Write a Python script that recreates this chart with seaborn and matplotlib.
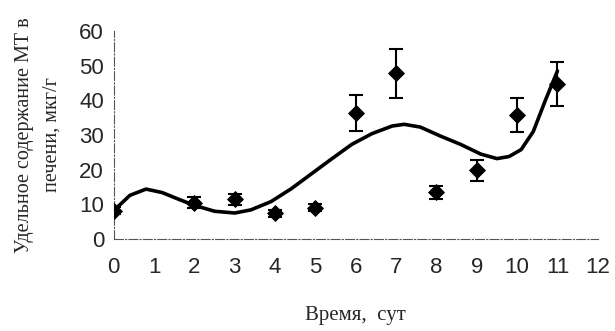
import numpy as np
import pandas as pd
import matplotlib
matplotlib.use("Agg")
import matplotlib.pyplot as plt
import seaborn as sns

# Data
days = [0, 2, 3, 4, 5, 6, 7, 8, 9, 10, 11]
mt_content = [8.2, 10.4, 11.4, 7.4, 9.0, 36.5, 47.8, 13.5, 19.8, 35.8, 44.7]
mt_error = [1.0, 1.6, 1.7, 1.0, 1.0, 5.2, 7.0, 1.9, 3.0, 5.0, 6.4]

# trend curve
trend_x = [0, 0.4, 0.8, 1.2, 1.6, 2.0, 2.5, 3.0, 3.4, 3.9, 4.4, 4.9, 5.4, 5.9,
           6.4, 6.9, 7.2, 7.6, 8.1, 8.6, 9.1, 9.5, 9.8, 10.1, 10.4, 10.7, 11.0]
trend_y = [8.2, 12.6, 14.4, 13.4, 11.5, 9.7, 8.0, 7.5, 8.4, 10.8, 14.5, 18.8,
           23.1, 27.3, 30.4, 32.6, 33.1, 32.3, 29.7, 27.3, 24.5, 23.2, 23.8,
           25.8, 31.0, 40.0, 48.5]

x_ticks = list(range(0, 13))
y_ticks = [0, 10, 20, 30, 40, 50, 60]

df = pd.DataFrame({"day": days, "mt": mt_content, "err": mt_error})
trend = pd.DataFrame({"day": trend_x, "mt": trend_y})

sns.set_style("white")

fig = plt.figure(figsize=(6.15, 3.31), dpi=100)
ax = fig.add_axes([0.185, 0.278, 0.787, 0.628])

# smooth trend line
sns.lineplot(data=trend, x="day", y="mt", color="black", lw=2.6, ax=ax,
             solid_capstyle="round", solid_joinstyle="round")

# error bars
ax.errorbar(df["day"], df["mt"], yerr=df["err"], fmt="none",
            ecolor="black", elinewidth=1.5, capsize=5, capthick=1.5, zorder=3)

# diamond markers
sns.scatterplot(data=df, x="day", y="mt", marker="D", s=65, color="black",
                edgecolor="black", ax=ax, zorder=4)

ax.set_xlim(0, 12)
ax.set_ylim(0, 60)
ax.set_xticks(x_ticks)
ax.set_yticks(y_ticks)
ax.tick_params(axis="both", labelsize=16, length=4, width=0.7, color="#555555",
               direction="out")
ax.tick_params(axis="x", pad=9)
ax.tick_params(axis="y", pad=3)
for lbl in ax.get_xticklabels() + ax.get_yticklabels():
    lbl.set_family("Liberation Sans")

for side in ["top", "right"]:
    ax.spines[side].set_visible(False)
for side in ["left", "bottom"]:
    ax.spines[side].set_color("#555555")
    ax.spines[side].set_linewidth(0.8)
    ax.spines[side].set_linestyle((0, (8, 2, 1, 2)))

ax.set_xlabel("Время,  сут", family="Liberation Serif", fontsize=15, labelpad=20)
ax.set_ylabel("Удельное содержание МТ в\nпечени, мкг/г", family="Liberation Serif",
              fontsize=14.5, labelpad=13, linespacing=1.6)

fig.savefig("out.png", dpi=100)
